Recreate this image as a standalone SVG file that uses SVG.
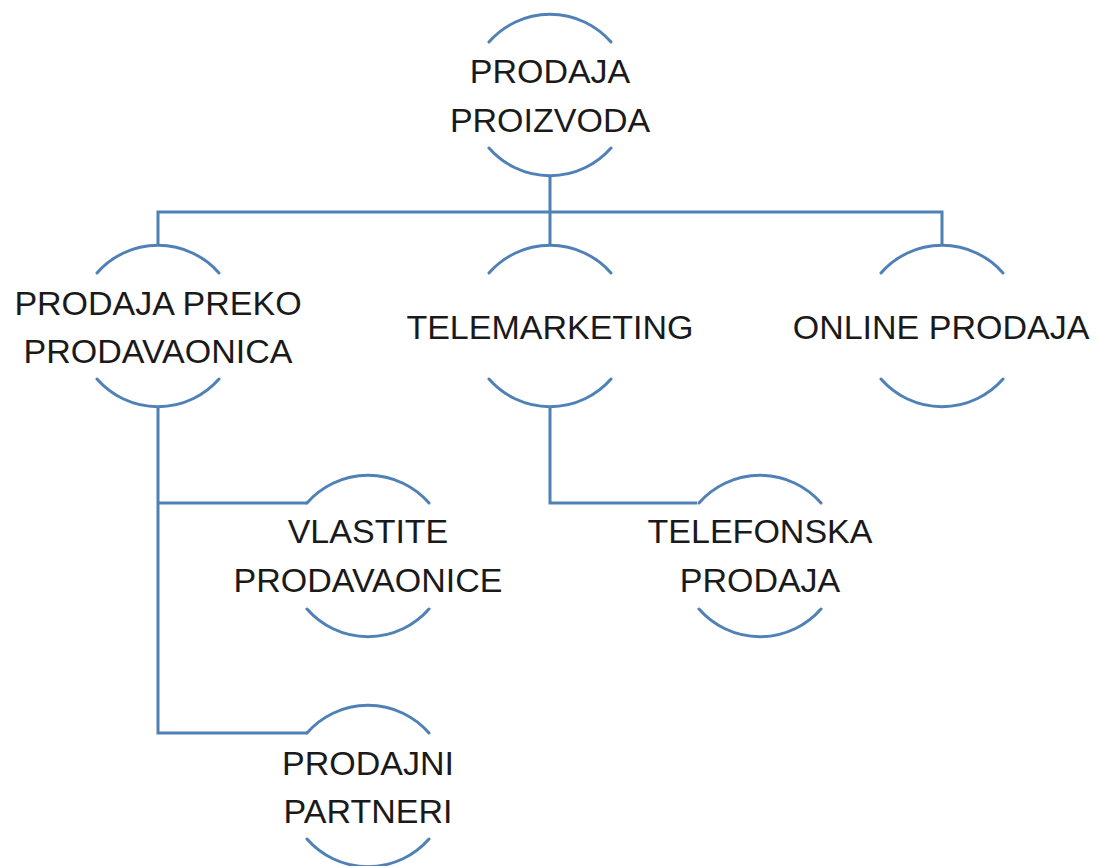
<svg xmlns="http://www.w3.org/2000/svg" width="1100" height="866" viewBox="0 0 1100 866">
  <style>
    .arc { fill: none; stroke: #4F81B6; stroke-width: 3; stroke-linecap: round; }
    .conn { fill: none; stroke: #4F81B6; stroke-width: 3; }
    .lbl { font-family: "Liberation Sans", Arial, sans-serif; font-size: 34px; fill: #1a1a1a; text-anchor: middle; }
  </style>
  <rect width="1100" height="866" fill="#ffffff"/>
  <g id="connectors">
    <path class="conn" d="M550 175 V212 M158 245 V212 H942 V245 M550 212 V245"/>
    <path class="conn" d="M158 407 V733 H307 M158 503 H307"/>
    <path class="conn" d="M550 407 V503 H697"/>
  </g>
  <g id="node-prodaja-proizvoda">
    <path class="arc" d="M489 42 A81 81 0 0 1 611 42 M489 148 A81 81 0 0 0 611 148"/>
    <text class="lbl" x="550" y="83">PRODAJA</text>
    <text class="lbl" x="550" y="132">PROIZVODA</text>
  </g>
  <g id="node-prodaja-preko-prodavaonica">
    <path class="arc" d="M97 273 A81 81 0 0 1 219 273 M97 379 A81 81 0 0 0 219 379"/>
    <text class="lbl" x="158" y="315">PRODAJA PREKO</text>
    <text class="lbl" x="158" y="363">PRODAVAONICA</text>
  </g>
  <g id="node-telemarketing">
    <path class="arc" d="M489 273 A81 81 0 0 1 611 273 M489 379 A81 81 0 0 0 611 379"/>
    <text class="lbl" x="550" y="339">TELEMARKETING</text>
  </g>
  <g id="node-online-prodaja">
    <path class="arc" d="M881 273 A81 81 0 0 1 1003 273 M881 379 A81 81 0 0 0 1003 379"/>
    <text class="lbl" x="941" y="339">ONLINE PRODAJA</text>
  </g>
  <g id="node-vlastite-prodavaonice">
    <path class="arc" d="M307 503 A81 81 0 0 1 429 503 M307 609 A81 81 0 0 0 429 609"/>
    <text class="lbl" x="368" y="543">VLASTITE</text>
    <text class="lbl" x="368" y="592">PRODAVAONICE</text>
  </g>
  <g id="node-telefonska-prodaja">
    <path class="arc" d="M699 503 A81 81 0 0 1 821 503 M699 609 A81 81 0 0 0 821 609"/>
    <text class="lbl" x="760" y="543">TELEFONSKA</text>
    <text class="lbl" x="760" y="592">PRODAJA</text>
  </g>
  <g id="node-prodajni-partneri">
    <path class="arc" d="M307 733 A81 81 0 0 1 429 733 M307 839 A81 81 0 0 0 429 839"/>
    <text class="lbl" x="368" y="775">PRODAJNI</text>
    <text class="lbl" x="368" y="823">PARTNERI</text>
  </g>
</svg>
